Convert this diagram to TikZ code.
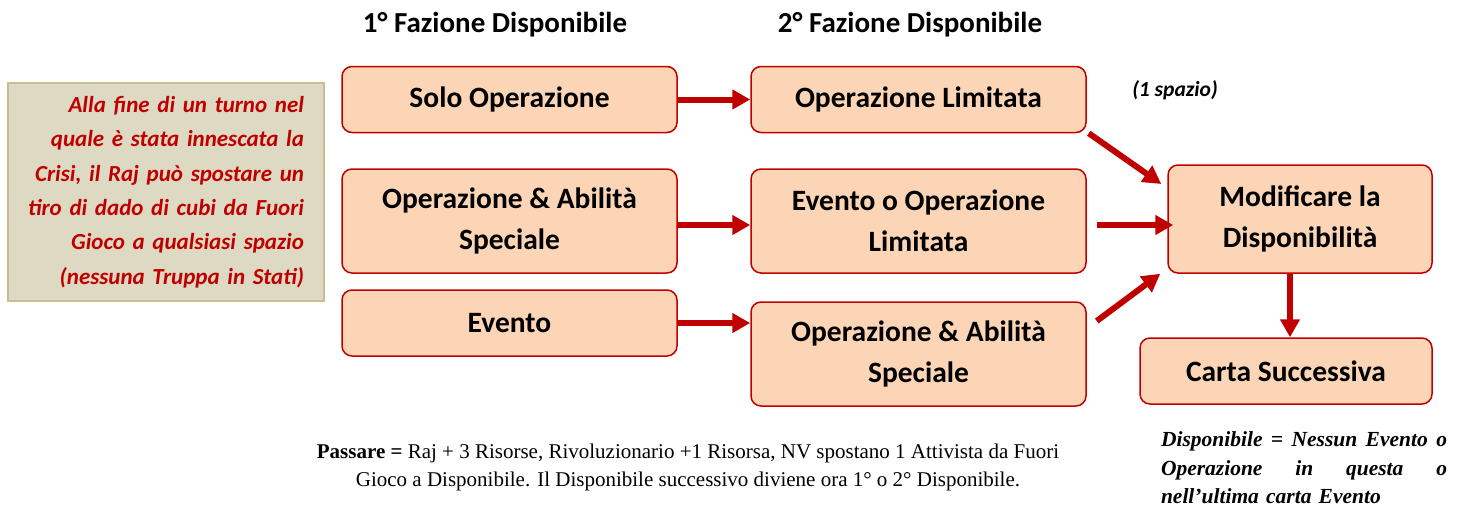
\documentclass[tikz,border=0pt]{standalone}
\usepackage{fontspec}
\setmainfont{Liberation Serif}
\newfontfamily\calibri{Carlito}
\usetikzlibrary{arrows.meta,calc}
\definecolor{boxfill}{HTML}{FBD5B5}
\definecolor{boxline}{HTML}{C00000}
\definecolor{arrowred}{HTML}{C00000}
\definecolor{notefill}{HTML}{DDD9C3}
\definecolor{noteline}{HTML}{C4BD97}

\begin{document}
\begin{tikzpicture}[x=1pt, y=-1pt,
  phase/.style={draw=boxline, line width=1.5pt, fill=boxfill, rounded corners=10pt,
    minimum width=335pt, minimum height=66pt, inner sep=0pt, align=center,
    font=\calibri\bfseries\fontsize{29.5}{41}\selectfont},
  flow/.style={line width=6pt, arrowred, -{Triangle[length=18pt,width=19pt]}},
  header/.style={font=\calibri\bfseries\fontsize{29}{32}\selectfont}]
  % ============================================================
  % 1 px of the sheet = 1 pt, y grows downwards
  % ============================================================
  \def\colA{509.5}  % centre of column 1
  \def\colB{918.5}  % centre of column 2
  \useasboundingbox (0,0) rectangle (1462,507);

  % 1. Column headers
  \node[header] (headA) at (495,25) {1° Fazione Disponibile};
  \node[header] (headB) at (910,25) {2° Fazione Disponibile};

  % 2. Side note (crisis)
  \node[draw=noteline, line width=1.5pt, fill=notefill, minimum width=316pt, minimum height=218pt,
        text width=276pt, align=right, text=boxline,
        font=\calibri\bfseries\itshape\fontsize{23}{34.3}\selectfont]
        (crisis) at (166,192)
        {Alla fine di un turno nel\\ quale è stata innescata la\\ Crisi, il Raj può spostare un\\
         tiro di dado di cubi da Fuori\\ Gioco a qualsiasi spazio\\ (nessuna Truppa in Stati)};

  % 3. Column 1
  \node[phase] (solo)   at (\colA,99.5)  {Solo Operazione};
  \node[phase, minimum height=104pt] (opabA) at (\colA,221) {Operazione \& Abilità\\Speciale};
  \node[phase] (evento) at (\colA,323) {Evento};

  % 4. Column 2
  \node[phase] (oplim)  at (\colB,99.5)  {Operazione Limitata};
  \node[phase, minimum height=104pt] (evop)  at (\colB,221) {Evento o Operazione\\Limitata};
  \node[phase, minimum height=104pt] (opabB) at (\colB,354) {Operazione \& Abilità\\Speciale};

  % 5. Right column
  \node[phase, minimum width=264pt, minimum height=108pt] (modif) at (1300,219)
        {Modificare la\\Disponibilità};
  \node[phase, minimum width=292pt] (carta) at (1286,371) {Carta Successiva};
  \node[font=\calibri\bfseries\itshape\fontsize{21.5}{24}\selectfont] (spazio) at (1175,90) {(1 spazio)};

  % 6. Arrows
  \draw[flow] (solo.east) -- (oplim.west);
  \draw[flow] ([yshift=-4pt]opabA.east) -- ([yshift=-4pt]evop.west);
  \draw[flow] (evento.east) -- (evento.east -| opabB.west);
  \draw[flow] ([xshift=2pt]oplim.south east) -- ([xshift=-6pt,yshift=35pt]modif.west);
  \draw[flow, shorten >=4pt] ([xshift=10pt,yshift=-4pt]evop.east)
    -- ([xshift=10pt,yshift=-4pt]evop.east -| modif.west);
  \draw[flow] ([xshift=10pt,yshift=33pt]opabB.east) -- ([xshift=-7pt]modif.south west);
  \draw[flow] ([xshift=-10pt]modif.south) -- ([xshift=-10pt]modif.south |- carta.north);

  % 7. Notes below
  \node[align=center, font=\fontsize{21}{28}\selectfont] (passare) at (688,467)
        {\textbf{Passare =} Raj + 3 Risorse, Rivoluzionario +1 Risorsa, NV spostano 1 Attivista da Fuori\\
         Gioco a Disponibile. Il Disponibile successivo diviene ora 1° o 2° Disponibile.};
  \node[text width=286pt, align=left, font=\bfseries\itshape\fontsize{21.5}{28.5}\selectfont]
        (dispon) at (1304,468)
        {\makebox[286pt][s]{Disponibile\hfill=\hfill Nessun\hfill Evento\hfill o}\\
         \makebox[286pt][s]{Operazione\hfill in\hfill questa\hfill o}\\
         nell’ultima carta Evento};
\end{tikzpicture}
\end{document}
